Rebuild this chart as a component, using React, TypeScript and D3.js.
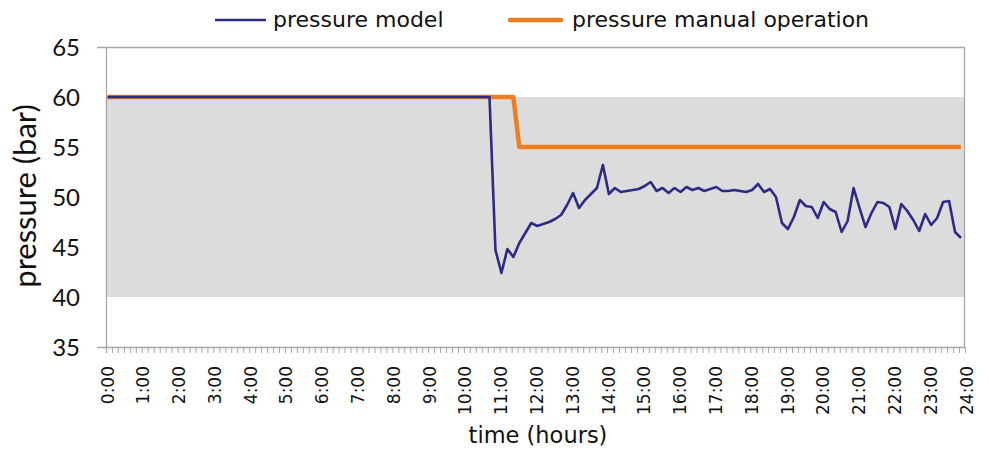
import React from "react";
import * as d3 from "d3";

// ---------- data (10-minute samples, 0:00 .. 23:50) ----------
const timeLabels = ["0:00","1:00","2:00","3:00","4:00","5:00","6:00","7:00","8:00","9:00","10:00","11:00","12:00","13:00","14:00","15:00","16:00","17:00","18:00","19:00","20:00","21:00","22:00","23:00","24:00"];
const yTicks = [35, 40, 45, 50, 55, 60, 65];

const pressureModel = [
  60,60,60,60,60,60,60,60,60,60,
  60,60,60,60,60,60,60,60,60,60,
  60,60,60,60,60,60,60,60,60,60,
  60,60,60,60,60,60,60,60,60,60,
  60,60,60,60,60,60,60,60,60,60,
  60,60,60,60,60,60,60,60,60,60,
  60,60,60,60,60,44.7,42.4,44.8,44.0,45.4,
  46.4,47.4,47.1,47.3,47.5,47.8,48.2,49.2,50.4,48.9,
  49.7,50.3,50.9,53.2,50.3,50.9,50.5,50.6,50.7,50.8,
  51.1,51.5,50.6,50.9,50.4,50.9,50.5,51.0,50.7,50.9,
  50.6,50.8,51.0,50.6,50.6,50.7,50.6,50.5,50.7,51.3,
  50.5,50.8,50.0,47.4,46.8,48.0,49.7,49.1,49.0,47.9,
  49.5,48.8,48.5,46.5,47.6,50.9,48.9,47.0,48.4,49.5,
  49.4,49.0,46.8,49.3,48.6,47.7,46.6,48.3,47.2,47.9,
  49.5,49.6,46.5,45.9,
];

const pressureManual = [
  60,60,60,60,60,60,60,60,60,60,
  60,60,60,60,60,60,60,60,60,60,
  60,60,60,60,60,60,60,60,60,60,
  60,60,60,60,60,60,60,60,60,60,
  60,60,60,60,60,60,60,60,60,60,
  60,60,60,60,60,60,60,60,60,60,
  60,60,60,60,60,60,60,60,60,55,
  55,55,55,55,55,55,55,55,55,55,
  55,55,55,55,55,55,55,55,55,55,
  55,55,55,55,55,55,55,55,55,55,
  55,55,55,55,55,55,55,55,55,55,
  55,55,55,55,55,55,55,55,55,55,
  55,55,55,55,55,55,55,55,55,55,
  55,55,55,55,55,55,55,55,55,55,
  55,55,55,55,
];

const bandLow = 40;
const bandHigh = 60;

// ---------- layout ----------
const W = 989, H = 453;
const L = 106, R = 965, T = 47, B = 347;

export default function App() {
  const xTick = d3.scaleLinear().domain([0, 144]).range([L, R]);
  const x = d3.scaleLinear().domain([0, 143]).range([107.5, 961]);
  const y = d3.scaleLinear().domain([35, 65]).range([B, T]);

  const line = d3.line<number>().x((_, i) => x(i)).y((d) => y(d));

  const minorTicks = d3.range(0, 145);
  const axisColor = "#a6a6a6";

  return (
    <svg width={W} height={H} style={{ position: "absolute", left: 0, top: 0, background: "#fff" }}>
      {/* band */}
      <rect x={L} y={y(bandHigh)} width={R - L} height={y(bandLow) - y(bandHigh)} fill="#dcdcdc" />

      {/* frame */}
      <line x1={L - 9} x2={R} y1={T + 0.5} y2={T + 0.5} stroke={axisColor} strokeWidth={1.3} />
      <line x1={R - 0.5} x2={R - 0.5} y1={T} y2={B} stroke={axisColor} strokeWidth={1.3} />
      <line x1={L + 0.5} x2={L + 0.5} y1={T} y2={B + 6} stroke={axisColor} strokeWidth={1.3} />
      <line x1={L - 9} x2={R} y1={B + 0.5} y2={B + 0.5} stroke={axisColor} strokeWidth={1.3} />

      {/* minor x ticks */}
      {minorTicks.map((t) => (
        <line key={t} x1={xTick(t) + 0.5} x2={xTick(t) + 0.5} y1={B} y2={B + 6} stroke={axisColor} strokeWidth={1} />
      ))}

      {/* y tick labels */}
      {yTicks.map((v) => (
        <text key={v} x={80} y={y(v) + 8.5} textAnchor="end" fontFamily="Lato" fontSize={24} fill="#111">
          {v}
        </text>
      ))}

      {/* y title */}
      <text transform={`translate(36,196) rotate(-90)`} textAnchor="middle" fontFamily="Lato" fontSize={31} fill="#111">
        pressure (bar)
      </text>

      {/* x tick labels */}
      {timeLabels.map((lab, k) => (
        <text
          key={lab}
          transform={`translate(${xTick(k * 6) + 1.5},366) rotate(-90)`}
          textAnchor="end"
          dominantBaseline="central"
          fontFamily="DejaVu Sans"
          fontSize={17}
          fill="#111"
        >
          {lab}
        </text>
      ))}

      {/* x title */}
      <text x={538} y={443} textAnchor="middle" fontFamily="DejaVu Sans" fontSize={22.5} fill="#111">
        time (hours)
      </text>

      {/* series */}
      <path d={line(pressureManual) || ""} fill="none" stroke="#ee7d22" strokeWidth={4.5} strokeLinejoin="round" />
      <path d={line(pressureModel) || ""} fill="none" stroke="#2e2b87" strokeWidth={2.6} strokeLinejoin="round" />

      {/* legend */}
      <line x1={215} x2={266} y1={20} y2={20} stroke="#2e2b87" strokeWidth={2.6} />
      <text x={273} y={27} fontFamily="DejaVu Sans" fontSize={22} fill="#111">pressure model</text>
      <line x1={510} x2={561} y1={20} y2={20} stroke="#ee7d22" strokeWidth={4.5} strokeLinecap="round" />
      <text x={572} y={27} fontFamily="DejaVu Sans" fontSize={22} fill="#111">pressure manual operation</text>
    </svg>
  );
}
